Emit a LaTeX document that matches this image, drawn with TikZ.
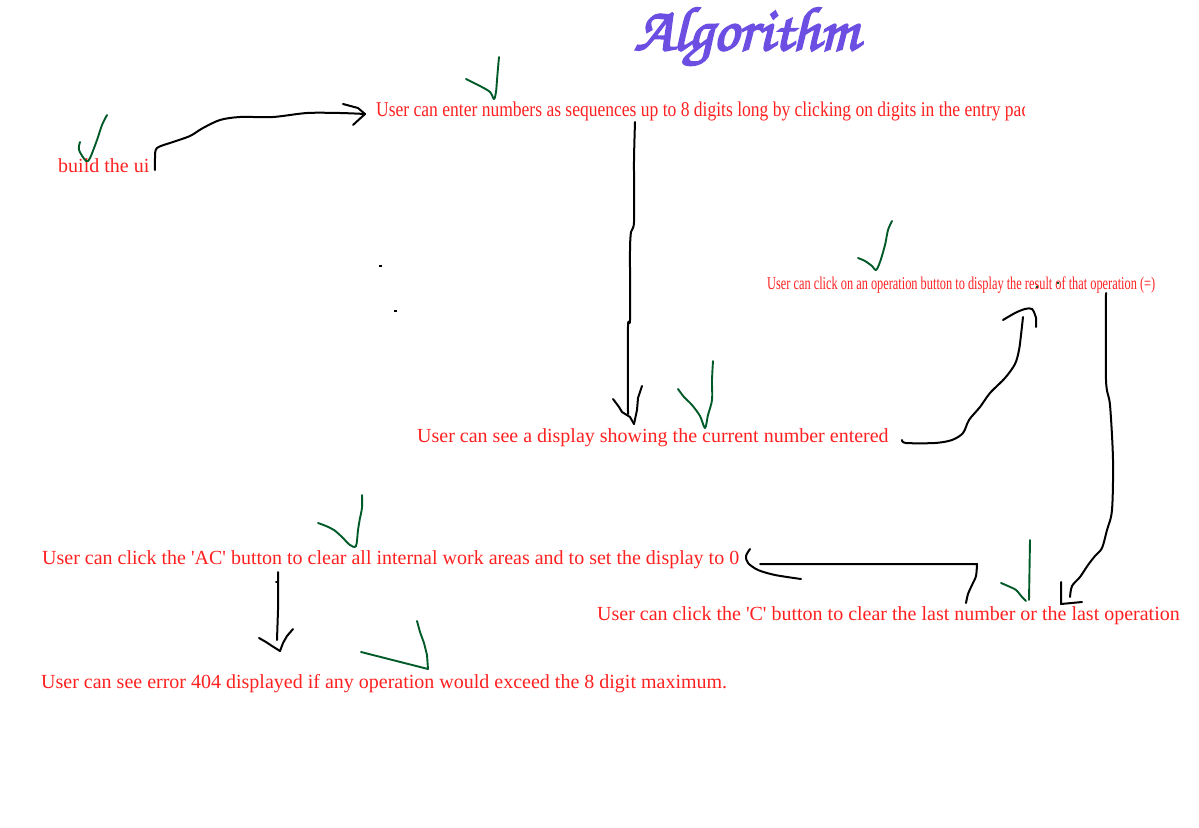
\documentclass[tikz,border=0pt]{standalone}
\usepackage{fontspec}
\usepackage{xcolor}
\usepackage{graphicx}
\usepackage{tikz}
\setmainfont{Liberation Serif}
\newfontfamily\titlefont[FakeBold=3]{texgyrechorus-mediumitalic.otf}
\definecolor{reqred}{RGB}{255,32,32}
\definecolor{tickgreen}{RGB}{0,90,40}
\definecolor{titlepurple}{RGB}{108,78,226}

\begin{document}
\begin{tikzpicture}[x=1pt, y=-1pt, every node/.style={inner sep=0pt, anchor=base west}]
    % Styles
    \tikzstyle{req} = [text=reqred, font=\fontsize{20}{24}\selectfont]
    \tikzstyle{pen} = [line width=2pt, black, line cap=round, line join=round]
    \tikzstyle{tick} = [line width=1.9pt, tickgreen, line cap=round, line join=round]

    \useasboundingbox (0,0) rectangle (1199,827);

    % Title
    \node[text=titlepurple] (title) at (634,50) {\resizebox{224pt}{!}{\titlefont Algorithm}};

    % Nodes
    \node[req] (ui) at (58,172) {build the ui};
    \begin{scope}
        \clip (0,0) rectangle (1024,827);
        \node[req, font=\fontsize{21}{24}\selectfont] (entry) at (376,116) {\resizebox{654pt}{\height}{User can enter numbers as sequences up to 8 digits long by clicking on digits in the entry pad}};
    \end{scope}
    \node[req, font=\fontsize{18}{22}\selectfont] (oper) at (767,289) {\resizebox{388pt}{\height}{User can click on an operation button to display the result of that operation (=)}};
    \node[req] (disp) at (417,442) {User can see a display showing the current number entered};
    \node[req] (allclear) at (42,564) {User can click the \textquotesingle AC\textquotesingle{} button to clear all internal work areas and to set the display to 0};
    \node[req] (clear) at (597,620) {User can click the \textquotesingle C\textquotesingle{} button to clear the last number or the last operation};
    \node[req] (error) at (41,688) {User can see error 404 displayed if any operation would exceed the 8 digit maximum.};

    % Ticks
    \draw[tick] plot[smooth, tension=0.5] coordinates {(80,142) (79,150) (86,161) (90,158) (97,140) (102,125) (107,115)};
    \draw[tick] plot[smooth, tension=0.5] coordinates {(466,79) (480,86) (490,92) (494,99) (496,92) (497,80) (498,68) (499,57)};
    \draw[tick] plot[smooth, tension=0.5] coordinates {(678,389) (684,397) (692,405) (700,416) (705,428) (708,415) (712,400) (712,380) (713,361)};
    \draw[tick] plot[smooth, tension=0.5] coordinates {(858,258) (865,261) (872,266) (876,270) (880,262) (885,245) (888,230) (892,221)};
    \draw[tick] plot[smooth, tension=0.5] coordinates {(1001,583) (1008,586) (1016,590) (1022,597) (1026,601)};
    \draw[tick] (1029,600) -- (1030,540);
    \draw[tick] plot[smooth, tension=0.5] coordinates {(318,523) (326,526) (334,530) (342,537) (350,545) (356,546) (358,530) (360,518) (362,508) (362,495)};
    \draw[tick] (361,652) -- (428,669) -- (427,655) -- (424,643) -- (420,632) -- (417,621);
    \fill[tickgreen] (1036,286) rectangle (1038,288);
    \fill[tickgreen] (1057,282) rectangle (1059,284);

    % Connections
    % ui -> entry
    \draw[pen] plot[smooth, tension=0.5] coordinates {(155,170) (155,158) (157,148) (173,142) (190,136) (203,128) (220,120) (240,117) (273,117) (307,113) (340,113) (365,114)};
    \draw[pen] (343,104) -- (358,108) -- (365,114) -- (353,125);
    % entry -> disp
    \draw[pen] plot[smooth, tension=0.4] coordinates {(635,122) (634,160) (634,222) (631,232) (630,250) (630,320) (628,326) (628,414)};
    \draw[pen] (613,399) -- (619,407) -- (622,412) -- (630,417) -- (634,424);
    \draw[pen] (642,386) -- (638,398) -- (637,410) -- (634,424);
    % disp -> oper
    \draw[pen] plot[smooth, tension=0.5] coordinates {(902,440) (906,443) (935,443) (952,440) (963,433) (969,420) (980,407) (990,393) (1005,378) (1015,364) (1019,350) (1021,335) (1023,317)};
    \draw[pen] plot[smooth, tension=0.5] coordinates {(1003,320) (1015,313) (1025,309) (1032,309) (1036,318) (1036,327)};
    % oper -> clear
    \draw[pen] plot[smooth, tension=0.5] coordinates {(1106,293) (1106,380) (1110,405) (1113,460) (1112,510) (1107,530) (1102,548) (1095,556) (1088,565) (1080,577) (1072,586) (1070,597)};
    \draw[pen] (1061,582) -- (1061,604) -- (1082,602);
    % clear -> allclear
    \draw[pen] plot[smooth, tension=0.5] coordinates {(966,603) (968,594) (972,585) (976,576) (977,564)} -- (760,564);
    \draw[pen] plot[smooth, tension=0.5] coordinates {(750,549) (746,556) (748,563) (758,570) (775,575) (801,579)};
    % allclear -> error
    \draw[pen] (276,582) -- (278,582);
    \draw[pen] (278,572) -- (278,610) -- (277,640);
    \draw[pen] (259,638) -- (266,642) -- (272,646) -- (280,651);
    \draw[pen] (293,629) -- (287,636) -- (283,643) -- (280,651);

    % stray dots
    \fill (379,265) rectangle (382,267);
    \fill (394,310) rectangle (397,312);
\end{tikzpicture}
\end{document}
